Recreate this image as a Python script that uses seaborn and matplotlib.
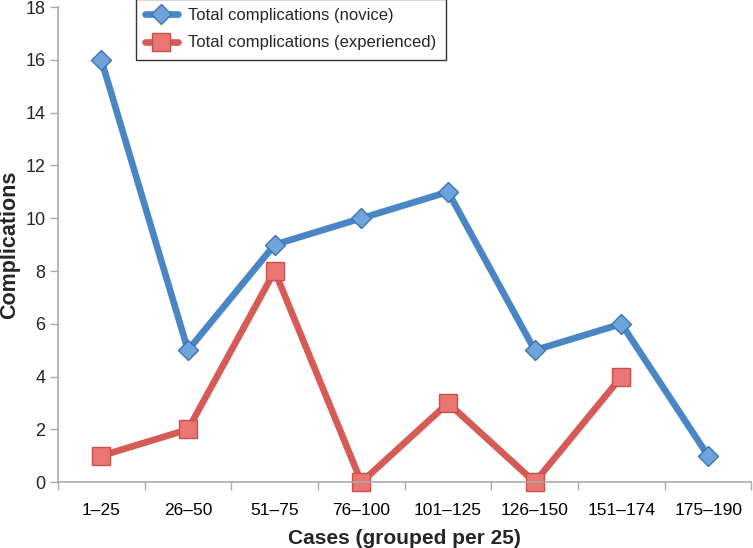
import matplotlib
matplotlib.use("Agg")
import matplotlib.pyplot as plt
import seaborn as sns
import numpy as np
import pandas as pd

categories = ["1–25", "26–50", "51–75", "76–100", "101–125", "126–150", "151–174", "175–190"]
novice = [16, 5, 9, 10, 11, 5, 6, 1]
experienced = [1, 2, 8, 0, 3, 0, 4, np.nan]
series_names = ["Total complications (novice)", "Total complications (experienced)"]

sns.set_theme(style="white")
plt.rcParams['font.family'] = ['Liberation Sans', 'DejaVu Sans']

fig = plt.figure(figsize=(7.53, 5.48), dpi=100)
ax = fig.add_axes([0.077, 0.12, 0.921, 0.867])

idx = np.arange(len(categories))
df_n = pd.DataFrame({"x": idx, "y": novice})
df_e = pd.DataFrame({"x": idx, "y": experienced}).dropna()

blue = "#4a86c6"
red = "#d65b57"
sns.lineplot(data=df_n, x="x", y="y", ax=ax, color=blue, linewidth=4.8,
             marker="D", markersize=10, markerfacecolor="#6ea3dc",
             markeredgecolor="#3d74b0", markeredgewidth=1, label=series_names[0])
sns.lineplot(data=df_e, x="x", y="y", ax=ax, color=red, linewidth=4.8,
             marker="s", markersize=13, markerfacecolor="#ea7673",
             markeredgecolor="#c9504c", markeredgewidth=1, label=series_names[1])

ax.set_xlim(-0.5, len(categories) - 0.5)
ax.set_ylim(0, 18)
ax.set_yticks(range(0, 19, 2))
ax.set_xticks(idx)
ax.set_xticklabels(categories)
ax.set_xticks(np.arange(-0.5, len(categories), 1.0), minor=True)
ax.tick_params(axis="x", which="major", length=0, pad=15, labelsize=12.5, colors="black")
ax.tick_params(axis="x", which="minor", length=6, width=1, color="#aaaaaa", bottom=True)
ax.tick_params(axis="y", which="major", length=6, width=1, color="#aaaaaa", left=True,
               labelsize=13, pad=3)
for ln in ax.lines:
    ln.set_clip_on(False)

for s in ["top", "right"]:
    ax.spines[s].set_visible(False)
for s in ["left", "bottom"]:
    ax.spines[s].set_color("#aaaaaa")
    ax.spines[s].set_linewidth(1.2)

ax.set_xlabel("Cases (grouped per 25)", fontsize=15, fontweight="bold", labelpad=8)
ax.set_ylabel("Complications", fontsize=15.5, fontweight="bold", labelpad=4)

leg = ax.legend(loc="upper left", bbox_to_anchor=(0.1, 1.035), frameon=True,
                fontsize=12, handlelength=2.0, borderpad=0.55, labelspacing=0.75,
                handletextpad=0.6, fancybox=False)
leg.get_frame().set_edgecolor("black")
leg.get_frame().set_linewidth(1)

fig.savefig("out.png", dpi=100)
